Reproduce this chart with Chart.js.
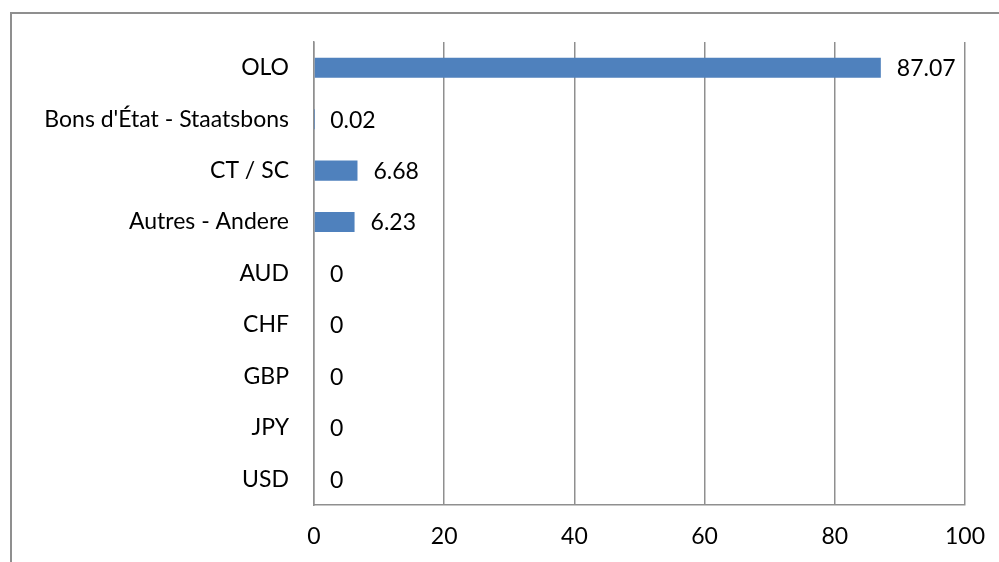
<!DOCTYPE html>
<html>
<head>
<meta charset="utf-8">
<script src="https://cdn.jsdelivr.net/npm/chart.js"></script>
<style>
  body { margin: 0; background: #fff; }
  #wrap { position: relative; width: 999px; height: 562px; overflow: hidden; }
  #frame { position: absolute; left: 10px; top: 12px; width: 1200px; height: 800px;
           border-left: 2px solid #8f8f8f; border-top: 2px solid #8f8f8f; }
  canvas { position: absolute; left: 0; top: 0; }
</style>
</head>
<body>
<div id="wrap">
  <div id="frame"></div>
  <canvas id="chart" width="999" height="562"></canvas>
</div>
<script>
var categories = ["OLO", "Bons d'État - Staatsbons", "CT / SC", "Autres - Andere", "AUD", "CHF", "GBP", "JPY", "USD"];
var values = [87.07, 0.02, 6.68, 6.23, 0, 0, 0, 0, 0];
var labels = ["87.07", "0.02", "6.68", "6.23", "0", "0", "0", "0", "0"];

var fontFamily = "Lato, 'Open Sans', sans-serif";

// draws the value next to each bar
var valueLabels = {
  id: 'valueLabels',
  afterDatasetsDraw: function(chart) {
    var ctx = chart.ctx;
    var meta = chart.getDatasetMeta(0);
    ctx.save();
    ctx.font = "23px " + fontFamily;
    ctx.fillStyle = "#000";
    ctx.textAlign = "left";
    ctx.textBaseline = "middle";
    meta.data.forEach(function(bar, i) {
      ctx.fillText(labels[i], bar.x + 16, bar.y + 1);
    });
    ctx.restore();
  }
};

var chart = new Chart(document.getElementById("chart").getContext('2d'), {
  type: 'bar',
  data: {
    labels: categories,
    datasets: [{
      data: values,
      backgroundColor: '#4F81BD',
      barPercentage: 0.39,
      categoryPercentage: 1
    }]
  },
  options: {
    indexAxis: 'y',
    responsive: false,
    animation: false,
    layout: { padding: { left: 0, right: 34, top: 42, bottom: 0 } },
    plugins: { legend: { display: false }, tooltip: { enabled: false } },
    scales: {
      x: {
        min: 0, max: 100,
        ticks: { stepSize: 20, color: '#000', font: { family: fontFamily, size: 23 }, padding: 18 },
        grid: { color: '#8f8f8f', lineWidth: 1.5, drawTicks: false },
        border: { color: '#8f8f8f', width: 1.5 },
        afterFit: function(scale) {
          scale.height = 57;
          scale.paddingLeft = 0;
          scale.paddingRight = 0;
        }
      },
      y: {
        ticks: { color: '#000', font: { family: fontFamily, size: 23 }, padding: 25 },
        grid: { display: false, drawTicks: false },
        border: { color: '#8f8f8f', width: 1.5 },
        afterFit: function(scale) { scale.width = 314; }
      }
    }
  },
  plugins: [valueLabels]
});
</script>
</body>
</html>
